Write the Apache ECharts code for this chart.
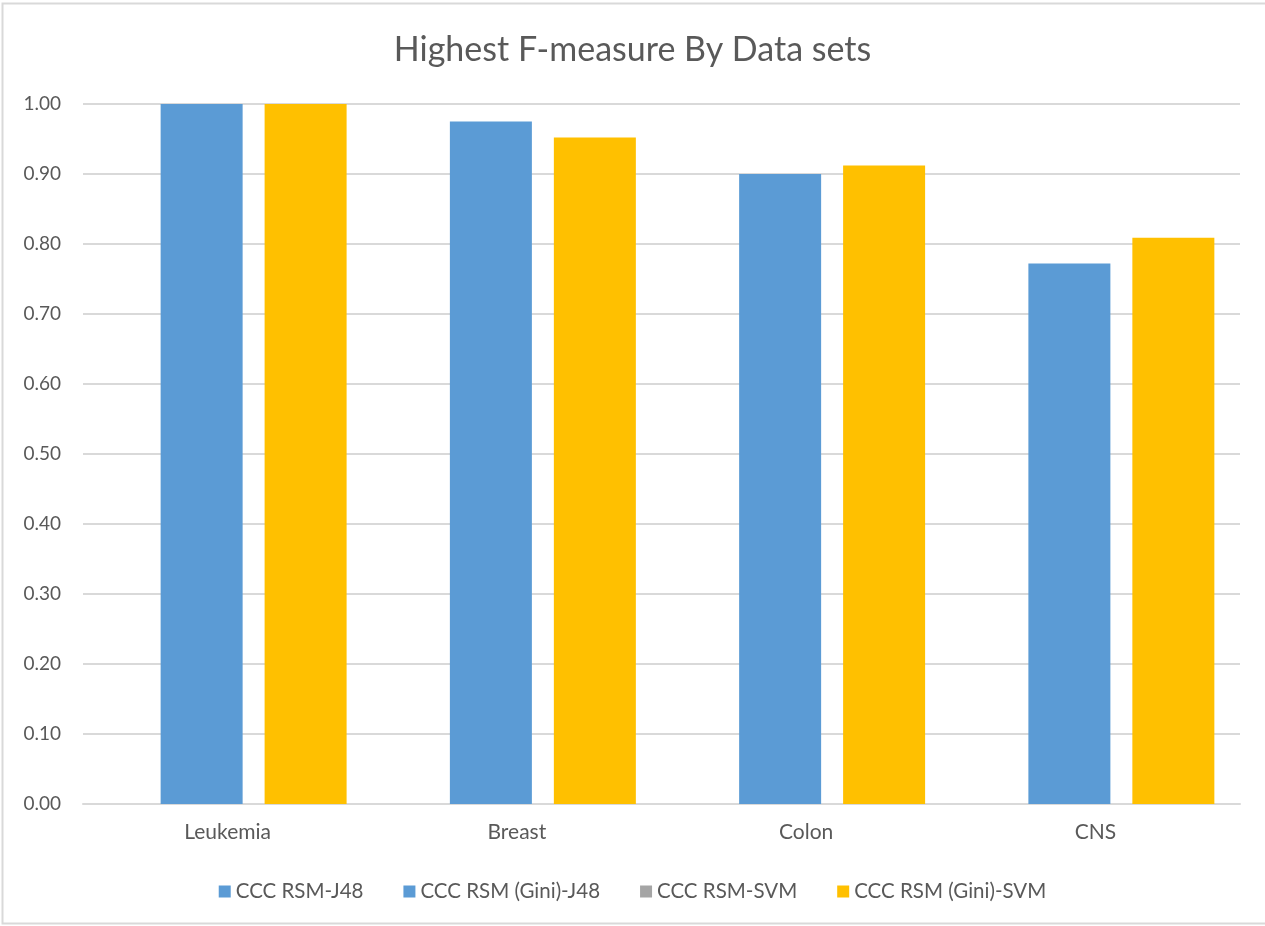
<!DOCTYPE html>
<html>
<head>
<meta charset="utf-8">
<title>Highest F-measure By Data sets</title>
<script src="https://cdn.jsdelivr.net/npm/echarts@6/dist/echarts.min.js"></script>
<style>
  html, body { margin: 0; padding: 0; background: #ffffff; }
  #chart { width: 1265px; height: 926px; }
</style>
</head>
<body>
<div id="chart"></div>
<script>
// Data sets and F-measure scores per method
const categories = ['Leukemia', 'Breast', 'Colon', 'CNS'];
const seriesNames = ['CCC RSM-J48', 'CCC RSM (Gini)-J48', 'CCC RSM-SVM', 'CCC RSM (Gini)-SVM'];
const rsmJ48 = [null, null, null, null];
const rsmGiniJ48 = [1.00, 0.975, 0.90, 0.772];
const rsmSVM = [null, null, null, null];
const rsmGiniSVM = [1.00, 0.952, 0.912, 0.809];
const yTicks = { min: 0, max: 1, interval: 0.1 };

const seriesData = [rsmJ48, rsmGiniJ48, rsmSVM, rsmGiniSVM];
const seriesColors = ['#5B9BD5', '#5B9BD5', '#A5A5A5', '#FFC000'];

const FONT = 'Lato, "Open Sans", sans-serif';
const TEXT = '#595959';
const GRID = '#d9d9d9';

const chart = echarts.init(document.getElementById('chart'), null, { renderer: 'canvas' });

chart.setOption({
  animation: false,
  backgroundColor: '#ffffff',
  title: {
    text: 'Highest F-measure By Data sets',
    left: 'center',
    top: 28,
    textStyle: { fontFamily: FONT, fontSize: 34, fontWeight: 'normal', color: TEXT }
  },
  legend: {
    data: seriesNames,
    top: 876,
    left: 'center',
    icon: 'rect',
    itemWidth: 12,
    itemHeight: 12,
    itemGap: 40,
    textStyle: { fontFamily: FONT, fontSize: 20.5, color: TEXT }
  },
  grid: { left: 83, right: 25, top: 104, bottom: 122, containLabel: false },
  xAxis: {
    type: 'category',
    data: categories,
    axisTick: { show: false },
    axisLine: { lineStyle: { color: GRID, width: 2 } },
    axisLabel: { fontFamily: FONT, fontSize: 21, color: TEXT, margin: 18 }
  },
  yAxis: {
    type: 'value',
    min: yTicks.min,
    max: yTicks.max,
    interval: yTicks.interval,
    axisLine: { show: false },
    axisTick: { show: false },
    splitLine: { lineStyle: { color: GRID, width: 2 } },
    axisLabel: {
      fontFamily: FONT, fontSize: 19, color: TEXT, margin: 22,
      formatter: v => v.toFixed(2)
    }
  },
  graphic: [{
    type: 'rect',
    shape: { x: 2.5, y: 3.5, width: 1280, height: 920 },
    style: { fill: null, stroke: GRID, lineWidth: 2 },
    silent: true,
    z: 100
  }],
  series: seriesNames.map((name, i) => ({
    name,
    type: 'bar',
    data: seriesData[i],
    barWidth: 82,
    barGap: '-36.6%',
    itemStyle: { color: seriesColors[i] }
  }))
});
</script>
</body>
</html>
